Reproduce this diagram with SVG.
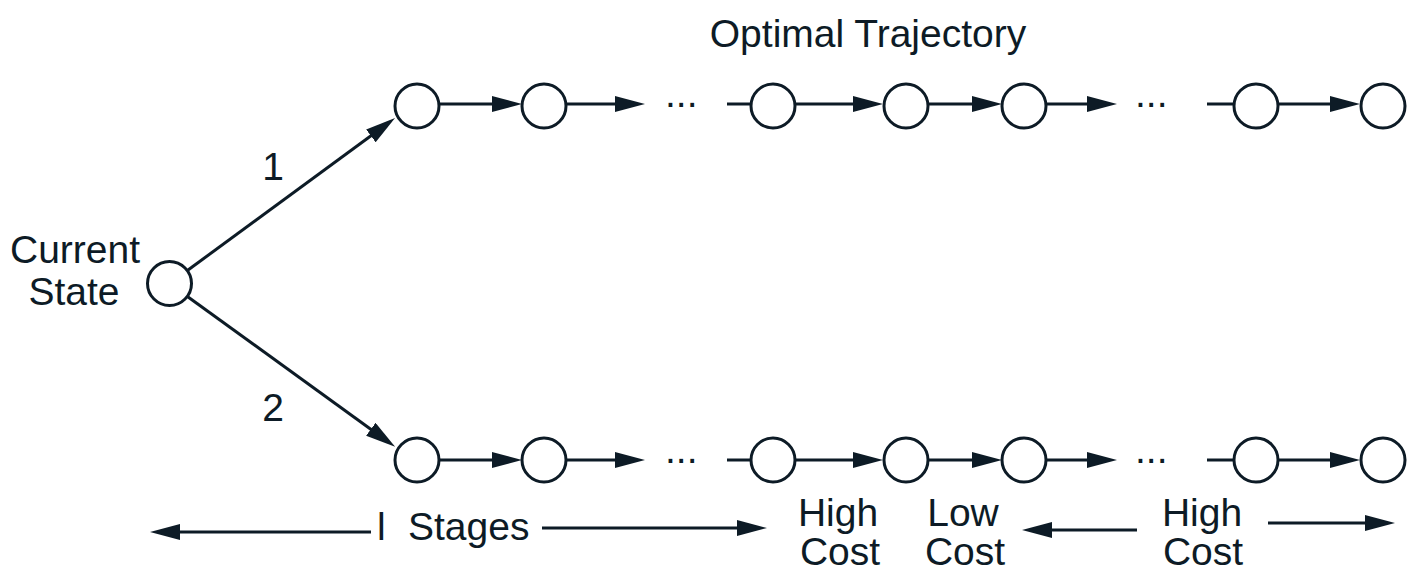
<svg xmlns="http://www.w3.org/2000/svg" width="1419" height="573" viewBox="0 0 1419 573">
<style>
.n{fill:#ffffff;stroke:#0d1b26;stroke-width:3}
.c{fill:none;stroke:#0d1b26;stroke-width:3}
.a{marker-end:url(#ah)}
text{font-family:"Liberation Sans",Arial,Helvetica,sans-serif;font-size:39px;fill:#0d1b26}
.m{text-anchor:middle}
</style>
<defs>
<marker id="ah" viewBox="0 0 30 16" refX="20" refY="8" markerWidth="30" markerHeight="16" markerUnits="userSpaceOnUse" orient="auto">
<path d="M0,0 L30,8 L0,16 Z" fill="#0d1b26"/>
</marker>
</defs>
<g id="connectors">
<line class="c a" x1="186" y1="271.5" x2="387" y2="124"/>
<line class="c a" x1="186" y1="295.5" x2="387" y2="441"/>
<line class="c a" x1="440" y1="104" x2="512" y2="104"/>
<line class="c a" x1="567" y1="104" x2="635" y2="104"/>
<line class="c" x1="727" y1="104" x2="751" y2="104"/>
<line class="c a" x1="796" y1="104" x2="873" y2="104"/>
<line class="c a" x1="929" y1="104" x2="992" y2="104"/>
<line class="c a" x1="1047" y1="104" x2="1107" y2="104"/>
<line class="c" x1="1207" y1="104" x2="1234" y2="104"/>
<line class="c a" x1="1279" y1="104" x2="1350" y2="104"/>
<line class="c a" x1="440" y1="460" x2="512" y2="460"/>
<line class="c a" x1="567" y1="460" x2="635" y2="460"/>
<line class="c" x1="727" y1="460" x2="751" y2="460"/>
<line class="c a" x1="796" y1="460" x2="873" y2="460"/>
<line class="c a" x1="929" y1="460" x2="992" y2="460"/>
<line class="c a" x1="1047" y1="460" x2="1107" y2="460"/>
<line class="c" x1="1207" y1="460" x2="1234" y2="460"/>
<line class="c a" x1="1279" y1="460" x2="1350" y2="460"/>
<line class="c a" x1="371" y1="532" x2="160" y2="532"/>
<line class="c a" x1="542" y1="528" x2="757" y2="528"/>
<line class="c a" x1="1137" y1="530" x2="1032" y2="530"/>
<line class="c a" x1="1268" y1="523" x2="1385" y2="523"/>
</g>
<g id="current-state"><circle class="n" cx="169.5" cy="283.5" r="22"/></g>
<g id="t1"><circle class="n" cx="417" cy="106" r="22"/></g>
<g id="t2"><circle class="n" cx="544" cy="106" r="22"/></g>
<g id="t3"><circle class="n" cx="773" cy="106" r="22"/></g>
<g id="t4"><circle class="n" cx="906" cy="106" r="22"/></g>
<g id="t5"><circle class="n" cx="1024" cy="106" r="22"/></g>
<g id="t6"><circle class="n" cx="1256" cy="106" r="22"/></g>
<g id="t7"><circle class="n" cx="1383" cy="106" r="22"/></g>
<g id="b1"><circle class="n" cx="417" cy="460" r="22"/></g>
<g id="b2"><circle class="n" cx="544" cy="460" r="22"/></g>
<g id="b3"><circle class="n" cx="773" cy="460" r="22"/></g>
<g id="b4"><circle class="n" cx="906" cy="460" r="22"/></g>
<g id="b5"><circle class="n" cx="1024" cy="460" r="22"/></g>
<g id="b6"><circle class="n" cx="1256" cy="460" r="22"/></g>
<g id="b7"><circle class="n" cx="1383" cy="460" r="22"/></g>
<g id="labels">
<text class="m" x="868" y="47">Optimal Trajectory</text>
<text class="m" x="75" y="263">Current</text>
<text class="m" x="74" y="305">State</text>
<text class="m" x="273" y="180">1</text>
<text class="m" x="273" y="421">2</text>
<text x="665" y="106.5">...</text>
<text x="1135" y="106.5">...</text>
<text x="665" y="462.5">...</text>
<text x="1135" y="462.5">...</text>
<text x="377" y="540">l</text>
<text x="408" y="540">Stages</text>
<text class="m" x="838" y="526">High</text>
<text class="m" x="840" y="565">Cost</text>
<text class="m" x="963" y="526">Low</text>
<text class="m" x="965" y="565">Cost</text>
<text class="m" x="1202" y="526">High</text>
<text class="m" x="1203" y="565">Cost</text>
</g>
</svg>
